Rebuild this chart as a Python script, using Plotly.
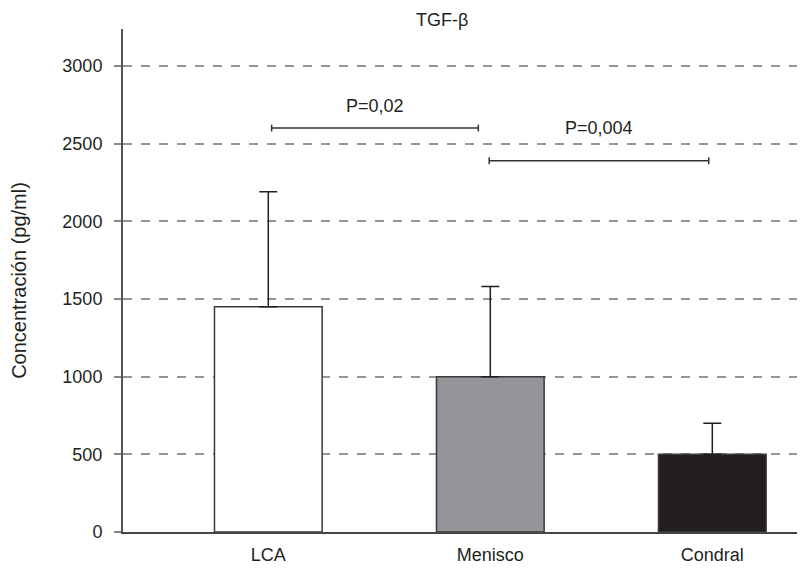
import plotly.graph_objects as go

categories = ["LCA", "Menisco", "Condral"]
means = [1450, 1000, 500]
sd_upper = [740, 580, 200]
bar_colors = ["#ffffff", "#939598", "#231f20"]
y_ticks = [0, 500, 1000, 1500, 2000, 2500, 3000]
comparisons = [
    {"from": 0.015, "to": 0.946, "y": 2600, "label": "P=0,02", "label_y": 2740},
    {"from": 0.995, "to": 1.984, "y": 2390, "label": "P=0,004", "label_y": 2600},
]

FONT = "Liberation Sans, Arial, Helvetica, sans-serif"
x_pos = list(range(len(categories)))

fig = go.Figure()
fig.add_trace(go.Bar(
    x=x_pos, y=means, width=0.485,
    marker=dict(color=bar_colors, line=dict(color="#3a3a3a", width=1.5)),
    error_y=dict(type="data", symmetric=False, array=sd_upper,
                 arrayminus=[0] * len(means), color="#231f20",
                 thickness=1.5, width=9),
    showlegend=False, hoverinfo="skip",
))

shapes = []
tick_h = 22
for c in comparisons:
    shapes.append(dict(type="line", xref="x", yref="y", x0=c["from"], x1=c["to"],
                       y0=c["y"], y1=c["y"], line=dict(color="#333333", width=1.5)))
    for xx in (c["from"], c["to"]):
        shapes.append(dict(type="line", xref="x", yref="y", x0=xx, x1=xx,
                           y0=c["y"] - tick_h, y1=c["y"] + tick_h,
                           line=dict(color="#333333", width=1.5)))

W, H = 800, 568
ml, mr, mt, mb = 123, 3, 29, 36
pw, ph = W - ml - mr, H - mt - mb

annotations = []
for c in comparisons:
    annotations.append(dict(x=(c["from"] + c["to"]) / 2, y=c["label_y"], xref="x", yref="y",
                            text=c["label"], showarrow=False,
                            font=dict(family=FONT, size=18, color="#231f20")))
annotations.append(dict(x=(442 - ml) / pw, y=(H - mb - 20) / ph, xref="paper", yref="paper",
                        text="TGF-β", showarrow=False, xanchor="center", yanchor="middle",
                        font=dict(family=FONT, size=18, color="#231f20")))

fig.update_layout(
    width=W, height=H,
    margin=dict(l=ml, r=mr, t=mt, b=mb),
    paper_bgcolor="white", plot_bgcolor="white",
    font=dict(family=FONT, size=18, color="#231f20"),
    shapes=shapes, annotations=annotations,
)
fig.update_xaxes(
    range=[-0.6545, 2.3815], tickvals=x_pos, ticktext=categories,
    showline=True, linecolor="#444444", linewidth=1.5,
    ticks="", showgrid=False, zeroline=False, automargin=False,
    tickfont=dict(family=FONT, size=18, color="#231f20"),
    ticklabelstandoff=6,
)
fig.update_yaxes(
    range=[0, 3238], tickvals=y_ticks,
    showline=True, linecolor="#555555", linewidth=2,
    ticks="outside", ticklen=7, tickcolor="#888888", tickwidth=1.5,
    showgrid=True, gridcolor="#939598", griddash="dash", gridwidth=1.7,
    zeroline=False, automargin=False,
    tickfont=dict(family=FONT, size=18, color="#231f20"),
    ticklabelstandoff=8,
    title=dict(text="Concentración (pg/ml)", standoff=30,
               font=dict(family=FONT, size=20, color="#231f20")),
)

fig.write_html("out.html")
